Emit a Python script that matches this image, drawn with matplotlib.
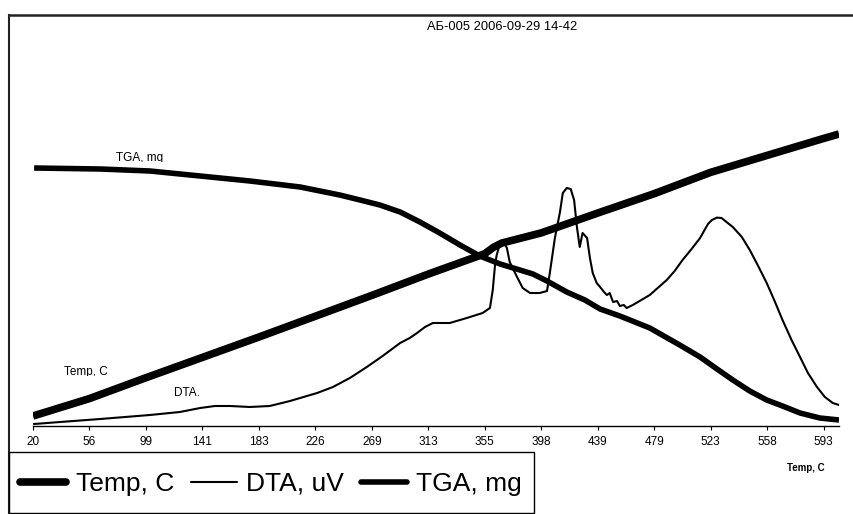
import matplotlib
matplotlib.use("Agg")
import matplotlib.pyplot as plt
from matplotlib.lines import Line2D
from matplotlib.patches import Rectangle
from matplotlib.transforms import Bbox, TransformedBbox

plt.rcParams['font.family'] = ['Liberation Sans', 'DejaVu Sans']

# ---------------- data ----------------
tick_labels = ["20", "56", "99", "141", "183", "226", "269", "313", "355",
               "398", "439", "479", "523", "558", "593"]

# Temperature series (deg C) at category positions
temp_pos = [0, 1, 2, 3, 4, 5, 6, 7, 8, 8.15, 8.3, 8.6, 9, 10, 11, 12, 13, 14, 14.27]
temp_val = [20, 56, 99, 141, 183, 226, 269, 313, 355, 368, 377, 386, 398, 439,
            479, 523, 558, 593, 602]

# DTA series (uV)
dta_pos = [0.02, 0.48, 1.19, 2.07, 2.60, 2.96, 3.22, 3.49, 3.84, 4.19, 4.55,
           4.73, 5.03, 5.31, 5.61, 5.91, 6.19, 6.50, 6.67, 6.80, 6.94, 7.08,
           7.38, 7.68, 7.96, 8.09, 8.14, 8.18, 8.21, 8.27, 8.32, 8.39, 8.44,
           8.57, 8.67, 8.80, 8.97, 9.10, 9.15, 9.24, 9.33, 9.38, 9.45, 9.52,
           9.58, 9.63, 9.68, 9.73, 9.81, 9.86, 9.91, 9.98, 10.04, 10.11, 10.16,
           10.21, 10.27, 10.34, 10.39, 10.46, 10.51, 10.62, 10.92, 11.06, 11.22,
           11.36, 11.50, 11.66, 11.81, 11.95, 12.02, 12.11, 12.19, 12.30, 12.39,
           12.55, 12.69, 12.83, 12.99, 13.13, 13.27, 13.43, 13.58, 13.72, 13.88,
           14.02, 14.16, 14.27]
dta_val = [0.5, 1.0, 1.75, 2.75, 3.5, 4.5, 5.0, 5.0, 4.75, 5.0, 6.25,
           7.0, 8.25, 9.75, 12.0, 14.75, 17.5, 20.75, 22.0, 23.25, 24.75, 25.75,
           25.75, 27.0, 28.25, 29.5, 34.0, 40.25, 42.75, 45.75, 46.25, 44.5, 41.0,
           37.25, 34.5, 33.25, 33.25, 33.75, 38.25, 47.0, 53.5, 58.25, 59.5, 59.25,
           56.5, 49.75, 44.75, 48.25, 47.0, 42.0, 38.25, 35.75, 34.75, 33.5, 32.75,
           33.25, 31.0, 31.25, 30.0, 30.25, 29.5, 30.25, 32.75, 34.5, 36.5,
           38.75, 41.5, 44.25, 47.0, 50.5, 51.5, 52.1, 52.0, 50.75, 49.75,
           47.25, 44.0, 40.25, 35.75, 31.25, 26.5, 21.5, 17.25, 13.25, 9.75,
           7.25, 5.75, 5.25]

# TGA series (mg)
tga_pos = [0.02, 1.19, 2.07, 2.96, 3.84, 4.73, 5.43, 5.79, 6.14, 6.50, 6.85,
           7.20, 7.56, 7.91, 8.27, 8.62, 8.85, 9.10, 9.45, 9.77, 10.04, 10.39,
           10.92, 11.45, 11.81, 12.11, 12.39, 12.69, 12.99, 13.27, 13.58, 13.93,
           14.27]
tga_val = [10.32, 10.28, 10.20, 10.00, 9.80, 9.56, 9.24, 9.04, 8.84, 8.56, 8.16,
           7.72, 7.24, 6.80, 6.48, 6.24, 6.08, 5.80, 5.36, 5.04, 4.68, 4.40,
           3.92, 3.24, 2.76, 2.28, 1.84, 1.40, 1.04, 0.80, 0.52, 0.32,
           0.24]

series_names = ["Temp, C", "DTA, uV", "TGA, mg"]
title = "АБ-005 2006-09-29 14-42"

# ---------------- figure ----------------
W, H = 854, 514
fig = plt.figure(figsize=(W / 100, H / 100), dpi=100)

def fx(px):
    return px / W

def fy(py):
    return 1 - py / H

ax = fig.add_axes([fx(33), fy(426), fx(839) - fx(33), fy(40) - fy(426)])
ax_dta = ax.twinx()
ax_tga = ax.twinx()

for a in (ax, ax_dta, ax_tga):
    a.set_xlim(0, 14.27)
    for s in ("left", "right", "top"):
        a.spines[s].set_visible(False)
    a.patch.set_visible(False)
    a.set_yticks([])
ax_dta.spines["bottom"].set_visible(False)
ax_tga.spines["bottom"].set_visible(False)

ax.set_ylim(-0.64, 796.1)
ax_dta.set_ylim(0, 96.5)
ax_tga.set_ylim(0, 15.44)

l_temp, = ax.plot(temp_pos, temp_val, color="black", lw=5.5, solid_capstyle="butt",
                  solid_joinstyle="round", label=series_names[0])
l_dta, = ax_dta.plot(dta_pos, dta_val, color="black", lw=1.5,
                     solid_joinstyle="round", label=series_names[1])
l_tga, = ax_tga.plot(tga_pos, tga_val, color="black", lw=4.0, solid_capstyle="butt",
                     solid_joinstyle="round", label=series_names[2])

ax.spines["bottom"].set_linewidth(1.0)
ax.set_xticks(range(len(tick_labels)))
ax.set_xticklabels(tick_labels, fontsize=8.5)
ax.tick_params(axis="x", direction="out", length=3, width=0.8, pad=4.5,
               colors="black")

# outer chart-area frame
fig.add_artist(Line2D([fx(9), 1], [fy(15), fy(15)], color="#222222", lw=1.8))
fig.add_artist(Line2D([fx(9), fx(9)], [fy(15), 0], color="#222222", lw=1.5))

fig.text(fx(502), fy(27), title, ha="center", va="center", fontsize=9.3)

# series labels (partially hidden, as in the reference)
def clipped_text(x, y, s, clip_bottom_px):
    t = fig.text(fx(x), fy(y), s, ha="center", va="center", fontsize=8.5)
    bb = Bbox.from_extents(0, fy(clip_bottom_px), 1, 1)
    t.set_clip_box(TransformedBbox(bb, fig.transFigure))
    t.set_clip_on(True)
    return t

clipped_text(140, 158, "TGA, mg", 162)
clipped_text(86, 372, "Temp, C", 376)
fig.text(fx(187), fy(393), "DTA.", ha="center", va="center", fontsize=8.5)

fig.text(fx(806), fy(468), "Temp, C", ha="center", va="center",
         fontsize=7, fontweight="bold")

# legend box
fig.add_artist(Rectangle((fx(9), fy(513)), fx(534) - fx(9), fy(452) - fy(513),
                         transform=fig.transFigure, facecolor="white",
                         edgecolor="black", lw=1.0, zorder=4))
leg = fig.legend([l_temp, l_dta, l_tga], series_names, ncol=3,
                 loc="center left", bbox_to_anchor=(fx(20), fy(484)),
                 fontsize=19, frameon=False,
                 handlelength=1.75, handletextpad=0.36, columnspacing=0.63,
                 borderpad=0, borderaxespad=0)
leg.set_zorder(5)
for lh in leg.get_lines():
    lh.set_solid_capstyle("round")

fig.savefig("out.png", dpi=100)
